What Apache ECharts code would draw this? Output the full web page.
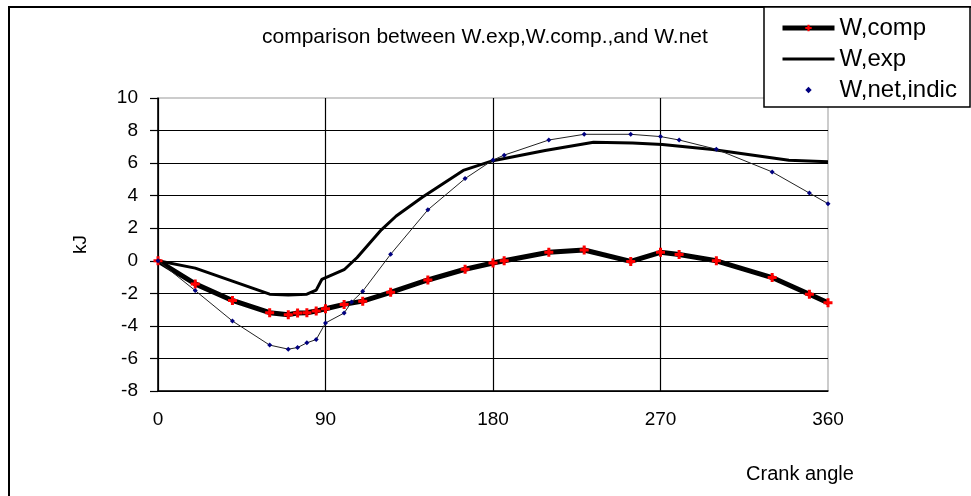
<!DOCTYPE html>
<html>
<head>
<meta charset="utf-8">
<script src="https://cdn.jsdelivr.net/npm/echarts@6/dist/echarts.min.js"></script>
<style>
  html, body { margin: 0; padding: 0; background: #fff; }
  #chart { width: 971px; height: 496px; }
</style>
</head>
<body>
<div id="chart"></div>
<script>
// crank angle (deg) and work (kJ)
var angleComp = [0, 20, 40, 60, 70, 75, 80, 85, 90, 100, 110, 125, 145, 165, 180, 186, 210, 229, 254, 270, 280, 300, 330, 350, 360];
var wComp     = [0, -1.42, -2.44, -3.19, -3.31, -3.21, -3.19, -3.09, -2.95, -2.68, -2.48, -1.94, -1.18, -0.52, -0.14, 0.0, 0.52, 0.66, -0.04, 0.52, 0.39, 0.0, -1.03, -2.06, -2.58];

var angleExp = [0, 20, 40, 60, 70, 80, 85, 88, 100, 107, 120, 128, 142, 164, 180, 208, 234, 255, 271, 298, 339, 360];
var wExp     = [0, -0.45, -1.25, -2.05, -2.1, -2.05, -1.8, -1.15, -0.55, 0.2, 1.9, 2.75, 3.9, 5.55, 6.15, 6.78, 7.28, 7.24, 7.15, 6.83, 6.17, 6.08];

var angleNet = [0, 20, 40, 60, 70, 75, 80, 85, 90, 100, 104, 110, 125, 145, 165, 180, 186, 210, 229, 254, 270, 280, 300, 330, 350, 360];
var wNet     = [0, -1.83, -3.7, -5.18, -5.43, -5.33, -5.04, -4.84, -3.82, -3.21, -2.54, -1.87, 0.4, 3.13, 5.05, 6.19, 6.49, 7.42, 7.77, 7.77, 7.63, 7.42, 6.85, 5.46, 4.16, 3.51];

var seriesNames = ['W,comp', 'W,exp', 'W,net,indic'];
var xTicks = [0, 90, 180, 270, 360];
var yTicks = [-8, -6, -4, -2, 0, 2, 4, 6, 8, 10];

function pairs(xs, ys) {
    var out = [];
    for (var i = 0; i < xs.length; i++) {
        out.push([xs[i], ys[i]]);
    }
    return out;
}

var FONT = '"Liberation Sans", Arial, sans-serif';
var plusPath = 'path://M-1,-3L1,-3L1,-1L3,-1L3,1L1,1L1,3L-1,3L-1,1L-3,1L-3,-1L-1,-1Z';

var myChart = echarts.init(document.getElementById('chart'), null, { renderer: 'canvas' });

var option = {
    backgroundColor: '#fff',
    animation: false,
    title: {
        text: 'comparison between W.exp,W.comp.,and W.net',
        left: 262,
        top: 27,
        padding: 0,
        textStyle: {
            fontFamily: FONT,
            fontSize: 21,
            fontWeight: 'normal',
            color: '#000'
        }
    },
    graphic: [
        {
            type: 'rect',
            z: 3,
            shape: { x: 9, y: 7, width: 1200, height: 800 },
            style: { fill: 'none', stroke: '#000', lineWidth: 2 }
        },
        {
            type: 'rect',
            z: 3,
            shape: { x: 764, y: 7, width: 206, height: 100 },
            style: { fill: '#fff', stroke: '#000', lineWidth: 1.5 }
        },
        {
            type: 'text',
            z: 3,
            x: 800,
            y: 474,
            style: {
                text: 'Crank angle',
                font: '20px ' + FONT,
                fill: '#000',
                align: 'center',
                verticalAlign: 'middle'
            }
        }
    ],
    legend: {
        orient: 'vertical',
        left: 780,
        top: 16,
        padding: 0,
        z: 10,
        itemWidth: 52,
        itemHeight: 8,
        itemGap: 7,
        textStyle: {
            fontFamily: FONT,
            fontSize: 24,
            color: '#000'
        },
        data: [
            { name: seriesNames[0], lineStyle: { width: 5 } },
            { name: seriesNames[1], lineStyle: { width: 3 }, itemStyle: { opacity: 0 } },
            { name: seriesNames[2], lineStyle: { opacity: 0 } }
        ]
    },
    grid: {
        left: 158,
        right: 143,
        top: 98,
        bottom: 105,
        show: true,
        borderColor: '#999',
        borderWidth: 1,
        containLabel: false
    },
    xAxis: {
        type: 'value',
        min: xTicks[0],
        max: xTicks[xTicks.length - 1],
        interval: 90,
        axisLine: { show: true, onZero: false, lineStyle: { color: '#000', width: 1.5 } },
        axisTick: { show: false },
        axisLabel: {
            margin: 19,
            fontFamily: FONT,
            fontSize: 19,
            color: '#000'
        },
        splitLine: { show: true, showMaxLine: false, lineStyle: { color: '#000', width: 1.2 } }
    },
    yAxis: {
        type: 'value',
        min: yTicks[0],
        max: yTicks[yTicks.length - 1],
        interval: 2,
        name: 'kJ',
        nameLocation: 'middle',
        nameRotate: 90,
        nameGap: 68,
        nameTextStyle: { fontFamily: FONT, fontSize: 19, color: '#000' },
        axisLine: { show: true, onZero: false, lineStyle: { color: '#000', width: 1.5 } },
        axisTick: { show: true, length: 8, lineStyle: { color: '#000', width: 1.2 } },
        axisLabel: {
            margin: 20,
            fontFamily: FONT,
            fontSize: 19,
            color: '#000'
        },
        splitLine: { show: true, showMaxLine: false, lineStyle: { color: '#000', width: 1.2 } }
    },
    series: [
        {
            name: seriesNames[0],
            type: 'line',
            data: pairs(angleComp, wComp),
            symbol: plusPath,
            symbolSize: 9,
            itemStyle: { color: '#ff0000' },
            lineStyle: { color: '#000', width: 5 },
            z: 3
        },
        {
            name: seriesNames[1],
            type: 'line',
            data: pairs(angleExp, wExp),
            symbol: 'none',
            itemStyle: { color: '#000' },
            lineStyle: { color: '#000', width: 3 },
            z: 2
        },
        {
            name: seriesNames[2],
            type: 'line',
            data: pairs(angleNet, wNet),
            symbol: 'diamond',
            symbolSize: 5,
            itemStyle: { color: '#000080' },
            lineStyle: { color: '#222', width: 1 },
            z: 4
        }
    ]
};

if (option)
    myChart.setOption(option);
</script>
</body>
</html>
